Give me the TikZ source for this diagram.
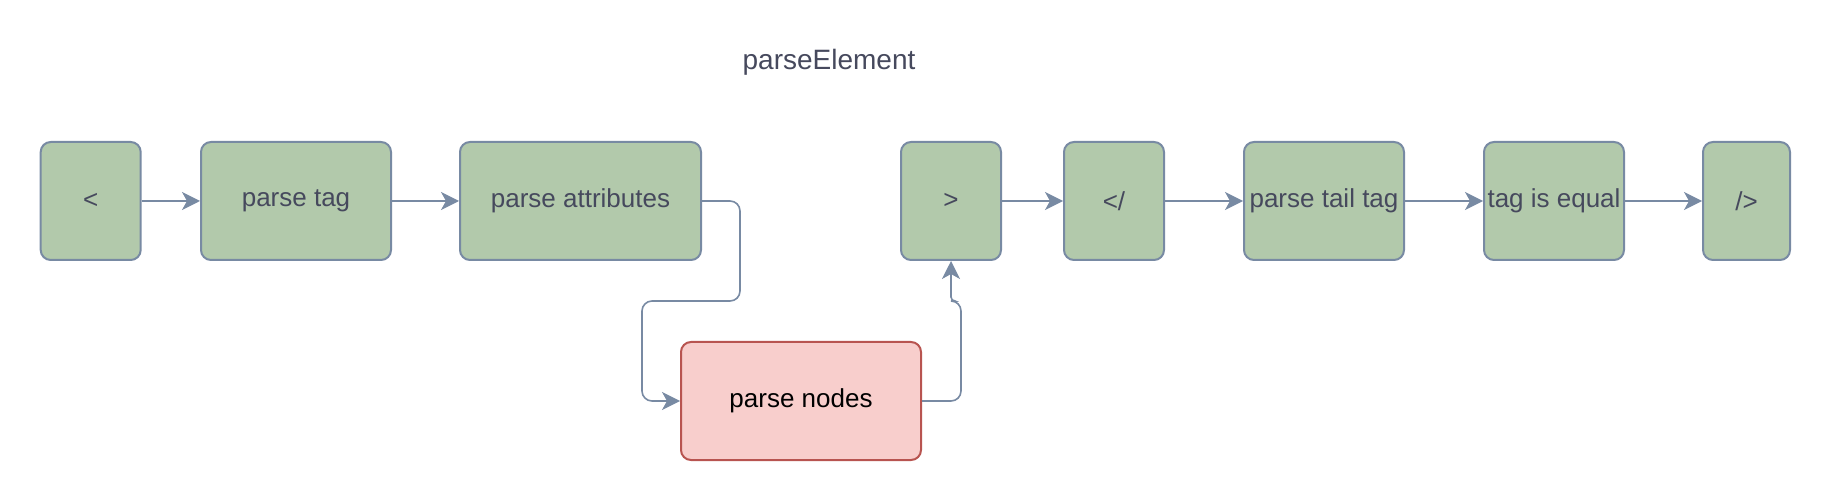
\documentclass[tikz,border=0pt]{standalone}
\usepackage{fontspec}
\setmainfont{Liberation Sans}
\usepackage{tikz}
\usetikzlibrary{arrows.meta}
\definecolor{stepGreen}{HTML}{B2C9AB}
\definecolor{stepRed}{HTML}{F8CECC}
\definecolor{edgeBlue}{HTML}{788AA3}
\definecolor{edgeRed}{HTML}{B85450}
\definecolor{inkGray}{HTML}{46495D}
\tikzset{
  blk/.style={draw=edgeBlue, fill=stepGreen, line width=1pt, rounded corners=5pt,
    minimum height=59pt, inner sep=0pt, text=inkGray, font=\fontsize{13}{16}\selectfont},
  blkRed/.style={blk, draw=edgeRed, fill=stepRed, text=black},
  link/.style={draw=edgeBlue, line width=0.8pt, rounded corners=5pt,
    -{Stealth[length=9pt, width=9pt, inset=2.5pt]}},
  heading/.style={text=inkGray, font=\fontsize{14}{17}\selectfont}
}
\begin{document}
\begin{tikzpicture}[x=0.5pt, y=-0.5pt]
       \useasboundingbox (0,0) rectangle (1832,502);
       % title
        \node[heading] (ttl) at (829,62) {parseElement};
       % top row
        \node[blk, minimum width=50pt] (lt) at (90.7,201) {<};
        \node[blk, minimum width=95pt] (ptag) at (296,201) {parse tag};
        \node[blk, minimum width=120.5pt] (pattr) at (580.5,201) {parse attributes};
        \node[blk, minimum width=50pt] (gt) at (951,201) {>};
        \node[blk, minimum width=50pt] (ltsl) at (1114,201) {</};
        \node[blk, minimum width=80pt] (ptail) at (1324,201) {parse tail tag};
        \node[blk, minimum width=70pt] (tageq) at (1554,201) {tag is equal};
        \node[blk, minimum width=43.5pt] (slgt) at (1746.5,201) {/>};
       % bottom row
        \node[blkRed, minimum width=120pt] (pnodes) at (801,401) {parse nodes};
       % bends
        \coordinate (bendA) at (740,301);
        \coordinate (bendB) at (642,301);
        \coordinate (bendC) at (961,301);
       % connectors
        \draw[link] (lt) -- (ptag);
        \draw[link] (ptag) -- (pattr);
        \draw[link] (pattr.east) -| (bendA) -- (bendB) |- (pnodes.west);
        \draw[link] (pnodes.east) -| (bendC) [rounded corners=2pt] -| (gt.south);
        \draw[link] (gt) -- (ltsl);
        \draw[link] (ltsl) -- (ptail);
        \draw[link] (ptail) -- (tageq);
        \draw[link] (tageq) -- (slgt);
    \end{tikzpicture}
\end{document}
